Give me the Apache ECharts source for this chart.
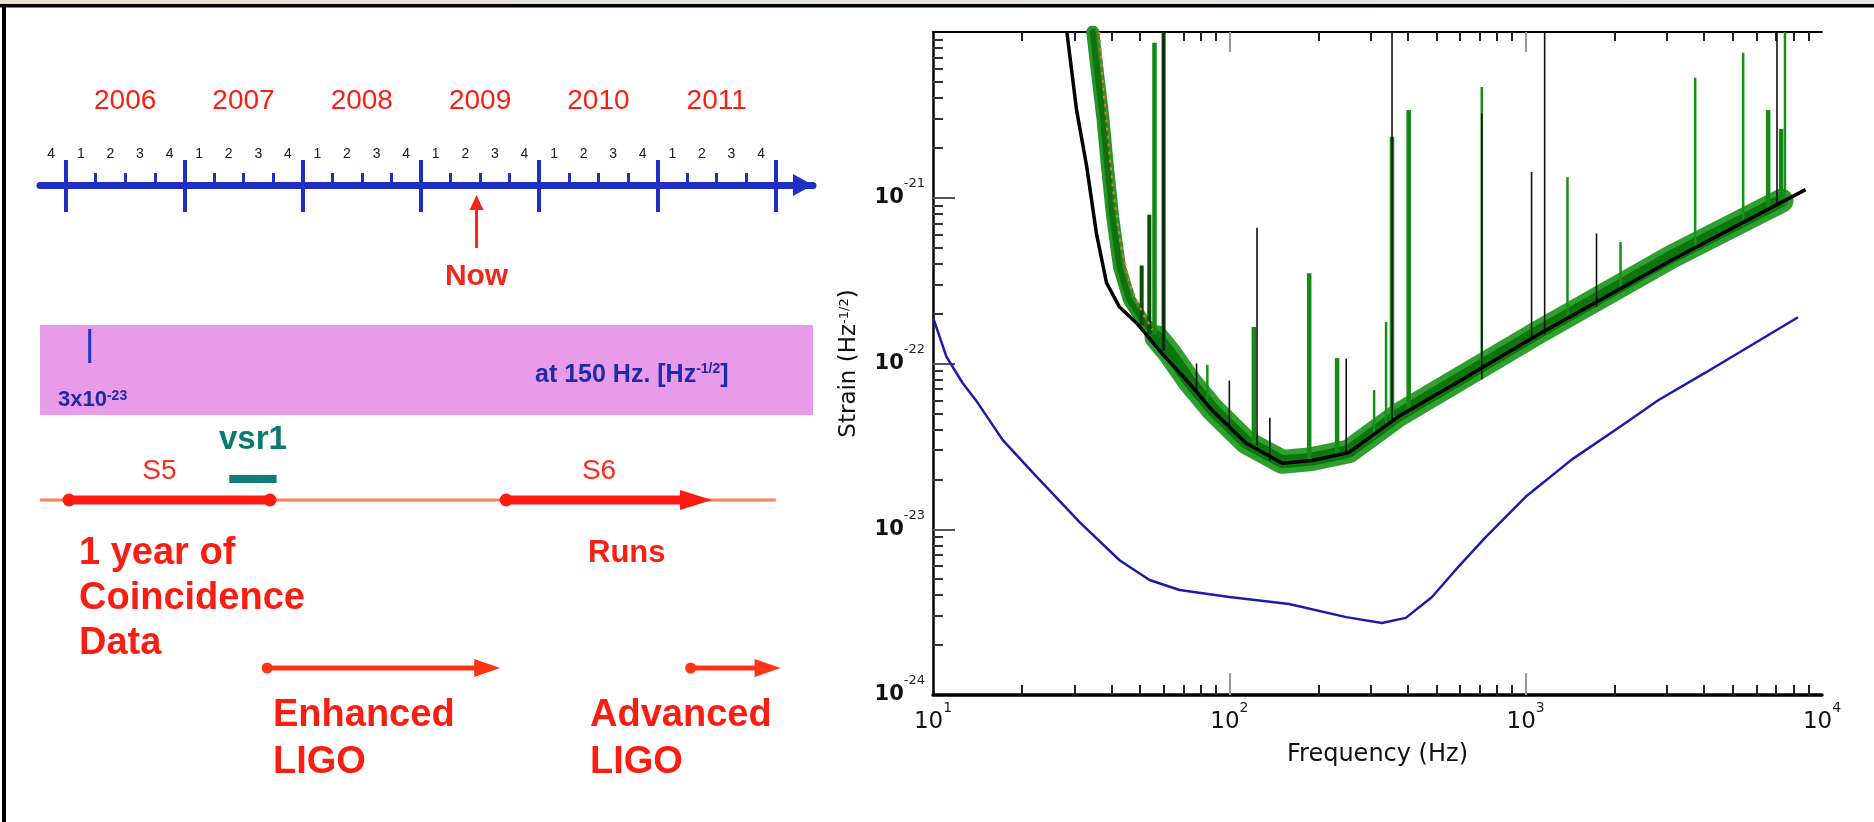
<!DOCTYPE html>
<html><head><meta charset="utf-8">
<script src="https://cdn.jsdelivr.net/npm/echarts@6/dist/echarts.min.js"></script>
<style>html,body{margin:0;padding:0;background:#fff;}#c{width:1874px;height:822px;}</style>
</head><body><div id="c"></div><script>
// ================= DATA =================
// --- right panel: strain noise spectra (frequency in Hz, strain in Hz^-1/2) ---
const BLUE_F = [10, 11.1, 12.6, 14.1, 17.2, 22.4, 31.3, 42.6, 53.8, 67.9, 100, 159, 248, 327, 394, 483, 581, 733, 1000, 1430, 2100, 2800, 4040, 8300];
const BLUE_S = [1.9e-22, 1.1e-22, 7.6e-23, 5.85e-23, 3.45e-23, 2.07e-23, 1.1e-23, 6.5e-24, 4.94e-24, 4.3e-24, 3.9e-24, 3.54e-24, 2.95e-24, 2.72e-24, 2.92e-24, 3.9e-24, 5.7e-24, 8.97e-24, 1.57e-23, 2.63e-23, 4.2e-23, 6.0e-23, 8.8e-23, 1.9e-22];

const BLACK_F = [28.3, 30.5, 33, 35.6, 38.5, 42.6, 48.7, 59.5, 73.3, 87.7, 114, 151, 190, 253, 373, 551, 1107, 3100, 8800];
const BLACK_S = [1e-20, 3.4e-21, 1.55e-21, 6.1e-22, 3.07e-22, 2.19e-22, 1.75e-22, 1.14e-22, 7.6e-23, 5.2e-23, 3.3e-23, 2.5e-23, 2.6e-23, 2.9e-23, 4.8e-23, 7.2e-23, 1.5e-22, 4.2e-22, 1.12e-21];

const GREEN_WALL_F = [34.6, 35.7, 37.4, 38.8, 40.4, 42.6, 46.0, 50.9, 56.8, 62.8];
const GREEN_WALL_S = [1e-20, 6.15e-21, 3.07e-21, 1.53e-21, 7.65e-22, 3.82e-22, 2.42e-22, 1.83e-22, 1.44e-22, 1.16e-22];

const GREEN_BAND_F = [56.8, 62.8, 73.3, 87.7, 114, 151, 190, 253, 373, 551, 1107, 3100, 7300];
const GREEN_BAND_S = [1.44e-22, 1.16e-22, 7.8e-23, 5.3e-23, 3.35e-23, 2.55e-23, 2.65e-23, 2.95e-23, 4.9e-23, 7.4e-23, 1.55e-22, 4.4e-22, 9.6e-22];

const ORANGE_F = [36.4, 37.6, 39.2, 40.8, 43.0, 46.5, 51, 55];
const ORANGE_S = [1e-20, 4.5e-21, 2.0e-21, 1.0e-21, 5.2e-22, 2.9e-22, 2.0e-22, 1.6e-22];

// spectral lines: [frequency, strain at base, strain at tip]
const GREEN_LINES_THICK = [[55.9, 1.5e-22, 8.6e-21], [121, 3.3e-23, 1.66e-22], [186, 2.6e-23, 3.5e-22], [231, 2.8e-23, 1.08e-22], [354, 4.6e-23, 2.33e-21], [403, 5e-23, 3.38e-21], [6580, 8.5e-22, 3.38e-21], [7280, 9e-22, 2.6e-21]];
const GREEN_LINES_THIN = [[84.3, 5.5e-23, 9.8e-23], [308, 3.5e-23, 6.9e-23], [338, 4.4e-23, 1.78e-22], [711, 9e-23, 4.66e-21], [1384, 1.8e-22, 1.33e-21], [2090, 2.8e-22, 5.4e-22], [3733, 4.8e-22, 5.3e-21], [5420, 6.6e-22, 7.5e-21], [7500, 9e-22, 1e-20]];
const DARK_LINES = [[50.6, 1.7e-22, 3.9e-22], [53.7, 1.5e-22, 7.9e-22], [60, 1.2e-22, 1e-20]];
const BLACK_LINES = [[60, 1.2e-22, 1e-20], [77.5, 6.8e-23, 1e-22], [100, 4e-23, 7.9e-23], [124, 3.2e-23, 6.6e-22], [137, 2.6e-23, 4.7e-23], [248, 2.9e-23, 1.07e-22], [354, 4.6e-23, 1e-20], [711, 8e-23, 3.24e-21], [1047, 1.4e-22, 1.43e-21], [1159, 1.5e-22, 1e-20], [1734, 2.2e-22, 6.1e-22], [7050, 9e-22, 1e-20]];

const FREQ_LABELS = [10, 100, 1000, 10000];
const STRAIN_LABELS = [1e-24, 1e-23, 1e-22, 1e-21];

// --- left panel: timeline (years as decimal) ---
const YEARS = [2006, 2007, 2008, 2009, 2010, 2011, 2012];
const YEAR_LABELS = ['2006', '2007', '2008', '2009', '2010', '2011'];
const QUARTER_LABELS = ['4', '1', '2', '3', '4', '1', '2', '3', '4', '1', '2', '3', '4', '1', '2', '3', '4', '1', '2', '3', '4', '1', '2', '3', '4'];
const T_RANGE = [2005.78, 2012.314];
const NOW = 2009.47;
const BAND_SPAN = [2005.78, 2012.314];
const BAND_MARK = 2006.2;
const VSR1 = [2007.38, 2007.78];
const RUN_LINE = [2005.78, 2012.0];
const RUN_NAMES = ['S5', 'S6'];
const RUN_START = [2006.025, 2009.72];
const RUN_END = [2007.724, 2011.46];
const UPGRADE_NAMES = ['Enhanced LIGO', 'Advanced LIGO'];
const UPGRADE_START = [2007.70, 2011.28];
const UPGRADE_END = [2009.67, 2012.04];

// ================= BUILD =================
const SCALE = 1e24; // plot strain in units of 1e-24 (avoids log-axis rounding of tiny numbers)
const RF = 'DejaVu Sans';
const LF = 'Liberation Sans';
const RED = '#fa1e12';
const TL_BLUE = '#1f2fc4';

const pairs = (fs, ss) => fs.map((f, i) => [f, ss[i] * SCALE]);
const lines = arr => arr.map(([f, a, b]) => [f, a * SCALE, b * SCALE]);

const MINOR = [];
[1, 10, 100, 1000].forEach(d => { for (let k = 2; k <= 9; k++) MINOR.push(k * d); });
const X_MINOR = MINOR.filter(v => v > 10 && v < 10000);
const X_MAJOR = [100, 1000];
const Y_MINOR = MINOR.filter(v => v > 1 && v < 10000);
const Y_MAJOR = [10, 100, 1000];

const supRich = (size, supSize, weight) => ({
  b: { fontSize: size, fontFamily: RF, fontWeight: weight, color: '#111', verticalAlign: 'middle' },
  s: { fontSize: supSize, fontFamily: RF, color: '#222', verticalAlign: 'top', padding: [0, 0, 28, 0] }
});

function spikeSeries(data, color, width, z) {
  return {
    type: 'custom', xAxisIndex: 0, yAxisIndex: 0, z: z, clip: true, silent: true,
    encode: { x: 0, y: [1, 2] },
    data: lines(data),
    renderItem: function (params, api) {
      const a = api.coord([api.value(0), api.value(1)]);
      const b = api.coord([api.value(0), api.value(2)]);
      return { type: 'line', shape: { x1: a[0], y1: a[1], x2: b[0], y2: b[1] }, style: { stroke: color, lineWidth: width } };
    }
  };
}

const QUARTER_CENTERS = QUARTER_LABELS.map((q, i) => 2005.875 + i * 0.25);
const YEAR_CENTERS = YEAR_LABELS.map(y => +y + 0.5);
const QUARTER_TICKS = [];
for (let y = 2006; y < 2012; y++) for (let q = 1; q < 4; q++) QUARTER_TICKS.push(y + q * 0.25);

const tAxis = (grid, extra) => Object.assign({
  gridIndex: grid, type: 'value', min: T_RANGE[0], max: T_RANGE[1], position: 'top',
  axisLine: { show: false, onZero: false }, axisTick: { show: false }, axisLabel: { show: false }, splitLine: { show: false }
}, extra || {});
const hiddenY = grid => ({ gridIndex: grid, type: 'value', min: 0, max: 1, show: false });

const logX = extra => Object.assign({
  gridIndex: 0, type: 'log', logBase: 10, min: 10, max: 10000,
  axisLine: { show: false, onZero: false }, axisTick: { show: false }, axisLabel: { show: false },
  splitLine: { show: false }, minorTick: { show: false }, minorSplitLine: { show: false }
}, extra);
const logY = extra => Object.assign({
  gridIndex: 0, type: 'log', logBase: 10, min: 1, max: 10000,
  axisLine: { show: false, onZero: false }, axisTick: { show: false }, axisLabel: { show: false },
  splitLine: { show: false }, minorTick: { show: false }, minorSplitLine: { show: false }
}, extra);

const option = {
  animation: false,
  backgroundColor: '#ffffff',
  grid: [
    { left: 933, top: 32, width: 889, height: 663, containLabel: false, outerBoundsMode: 'none' },
    { left: 40, top: 185, width: 773, height: 1, containLabel: false, outerBoundsMode: 'none' },
    { left: 40, top: 325, width: 773, height: 90, containLabel: false, outerBoundsMode: 'none' },
    { left: 40, top: 490, width: 773, height: 20, containLabel: false, outerBoundsMode: 'none' },
    { left: 40, top: 658, width: 773, height: 20, containLabel: false, outerBoundsMode: 'none' }
  ],
  xAxis: [
    // 0: frequency, bottom
    logX({
      position: 'bottom',
      axisLine: { show: true, onZero: false, lineStyle: { color: '#000', width: 3.5 } },
      axisTick: { show: true, inside: true, length: 10, customValues: X_MINOR, lineStyle: { color: '#222', width: 2 } },
      axisLabel: { show: true, customValues: FREQ_LABELS, margin: 6, showMinLabel: true, showMaxLabel: true, hideOverlap: false,
        formatter: v => '{b|10}{s|' + Math.round(Math.log10(v)) + '}', rich: supRich(23, 14, 'normal') },
      name: 'Frequency (Hz)', nameLocation: 'middle', nameGap: 48,
      nameTextStyle: { fontFamily: RF, fontSize: 24, color: '#111' }
    }),
    // 1: bottom decade ticks
    logX({ position: 'bottom', axisTick: { show: true, inside: true, length: 22, customValues: X_MAJOR, lineStyle: { color: '#999', width: 2 } } }),
    // 2: top minor
    logX({ position: 'top',
      axisLine: { show: true, onZero: false, lineStyle: { color: '#000', width: 2 } },
      axisTick: { show: true, inside: true, length: 9, customValues: X_MINOR, lineStyle: { color: '#222', width: 2 } } }),
    // 3: top decade
    logX({ position: 'top', axisTick: { show: true, inside: true, length: 20, customValues: X_MAJOR, lineStyle: { color: '#999', width: 2 } } }),
    // 4: timeline main line with year ticks upward and quarter numbers
    tAxis(1, {
      axisLine: { show: true, onZero: false, lineStyle: { color: TL_BLUE, width: 7 }, symbol: ['none', 'triangle'], symbolSize: [22, 20], symbolOffset: [0, -10] },
      axisTick: { show: true, length: 25, customValues: YEARS, lineStyle: { color: TL_BLUE, width: 4 } },
      axisLabel: { show: true, customValues: QUARTER_CENTERS, margin: 24, fontFamily: LF, fontSize: 14, color: '#1a1a1a',
        formatter: v => QUARTER_LABELS[Math.round((v - 2005.875) / 0.25)] }
    }),
    // 5: year ticks downward
    tAxis(1, { axisTick: { show: true, inside: true, length: 27, customValues: YEARS, lineStyle: { color: TL_BLUE, width: 4 } } }),
    // 6: quarter ticks
    tAxis(1, { axisTick: { show: true, length: 12, customValues: QUARTER_TICKS, lineStyle: { color: TL_BLUE, width: 3 } } }),
    // 7: year labels
    tAxis(1, { axisLabel: { show: true, customValues: YEAR_CENTERS, margin: 70, fontFamily: LF, fontSize: 28, color: RED,
      formatter: v => YEAR_LABELS[Math.round(v - 0.5 - 2006)] } }),
    tAxis(2, { show: false }),
    tAxis(3, { show: false }),
    tAxis(4, { show: false })
  ],
  yAxis: [
    logY({
      position: 'left',
      axisLine: { show: true, onZero: false, lineStyle: { color: '#000', width: 2.5 } },
      axisTick: { show: true, inside: true, length: 10, customValues: Y_MINOR, lineStyle: { color: '#333', width: 2 } },
      axisLabel: { show: true, customValues: STRAIN_LABELS.map(v => v * SCALE * 1.0000001), margin: 8, showMinLabel: true, showMaxLabel: true, hideOverlap: false,
        formatter: v => '{b|10}{s|' + (Math.round(Math.log10(v)) - 24) + '}', rich: supRich(21, 13, 'bold') },
      name: '{n|Strain (Hz}{s|-1/2}{n|)}', nameLocation: 'middle', nameGap: 72,
      nameTextStyle: { rich: {
        n: { fontFamily: RF, fontSize: 23, color: '#111' },
        s: { fontFamily: RF, fontSize: 13, color: '#111', verticalAlign: 'top' } } }
    }),
    logY({ position: 'left', axisTick: { show: true, inside: true, length: 22, customValues: Y_MAJOR, lineStyle: { color: '#555', width: 2 } } }),
    hiddenY(1), hiddenY(2), hiddenY(3), hiddenY(4)
  ],
  series: [
    // ---- right panel ----
    { type: 'line', name: 'Advanced LIGO design', xAxisIndex: 0, yAxisIndex: 0, z: 2, showSymbol: false, silent: true,
      data: pairs(BLUE_F, BLUE_S), lineStyle: { color: '#1c1ca8', width: 2.5 } },
    { type: 'line', xAxisIndex: 0, yAxisIndex: 0, z: 3, showSymbol: false, silent: true,
      data: pairs(GREEN_BAND_F, GREEN_BAND_S), lineStyle: { color: '#2f9f2f', width: 24, cap: 'round', join: 'round' } },
    { type: 'line', xAxisIndex: 0, yAxisIndex: 0, z: 4, showSymbol: false, silent: true,
      data: pairs(GREEN_BAND_F, GREEN_BAND_S), lineStyle: { color: '#0b760b', width: 13, cap: 'round', join: 'round' } },
    { type: 'line', xAxisIndex: 0, yAxisIndex: 0, z: 3, showSymbol: false, silent: true,
      data: pairs(GREEN_WALL_F, GREEN_WALL_S), lineStyle: { color: '#26962a', width: 13, cap: 'round', join: 'round' } },
    { type: 'line', xAxisIndex: 0, yAxisIndex: 0, z: 4, showSymbol: false, silent: true,
      data: pairs(GREEN_WALL_F, GREEN_WALL_S), lineStyle: { color: '#0d720d', width: 6, cap: 'round', join: 'round' } },
    spikeSeries(GREEN_LINES_THICK, '#138a13', 4.5, 5),
    spikeSeries(GREEN_LINES_THIN, '#179017', 2.5, 5),
    spikeSeries(DARK_LINES, '#0b4d0b', 4, 6),
    { type: 'line', xAxisIndex: 0, yAxisIndex: 0, z: 6, showSymbol: false, silent: true,
      data: pairs(ORANGE_F, ORANGE_S), lineStyle: { color: '#ff6a2a', width: 2, type: [3, 5] } },
    spikeSeries(BLACK_LINES, '#111', 1.6, 7),
    { type: 'line', xAxisIndex: 0, yAxisIndex: 0, z: 8, showSymbol: false, silent: true,
      data: pairs(BLACK_F, BLACK_S), lineStyle: { color: '#000', width: 3.5 } },

    // ---- left panel ----
    // "Now" marker
    { type: 'custom', xAxisIndex: 4, yAxisIndex: 2, silent: true, encode: { x: 0 }, data: [[NOW]],
      renderItem: function (params, api) {
        const p = api.coord([api.value(0), 0]);
        return { type: 'group', children: [
          { type: 'line', shape: { x1: p[0], y1: p[1] + 20, x2: p[0], y2: p[1] + 62 }, style: { stroke: '#f0281c', lineWidth: 3 } },
          { type: 'polygon', shape: { points: [[p[0], p[1] + 9], [p[0] - 7, p[1] + 24], [p[0] + 7, p[1] + 24]] }, style: { fill: '#f0281c' } },
          { type: 'text', style: { text: 'Now', x: p[0], y: p[1] + 91, align: 'center', verticalAlign: 'middle',
            fontFamily: LF, fontSize: 30, fontWeight: 'bold', fill: '#f0281c' } }
        ] };
      } },
    // sensitivity band
    { type: 'custom', xAxisIndex: 8, yAxisIndex: 3, silent: true, encode: { x: [0, 1] }, data: [BAND_SPAN],
      renderItem: function (params, api) {
        const a = api.coord([api.value(0), 1]);
        const b = api.coord([api.value(1), 0]);
        return { type: 'rect', shape: { x: a[0], y: a[1], width: b[0] - a[0], height: b[1] - a[1] }, style: { fill: '#e89be9' } };
      } },
    { type: 'custom', xAxisIndex: 8, yAxisIndex: 3, silent: true, encode: { x: 0 }, data: [[BAND_MARK]],
      renderItem: function (params, api) {
        const a = api.coord([api.value(0), 1]);
        return { type: 'line', shape: { x1: a[0], y1: a[1] + 4, x2: a[0], y2: a[1] + 38 }, style: { stroke: '#1b36c8', lineWidth: 3 } };
      } },
    // run axis thin line
    { type: 'line', xAxisIndex: 9, yAxisIndex: 4, silent: true, showSymbol: false, z: 1,
      data: [[RUN_LINE[0], 0.5], [RUN_LINE[1], 0.5]], lineStyle: { color: '#ff8257', width: 3 } },
    // S5 / S6 runs
    { type: 'custom', xAxisIndex: 9, yAxisIndex: 4, silent: true, z: 3, encode: { x: [0, 1] },
      data: RUN_START.map((s, i) => [s, RUN_END[i]]),
      renderItem: function (params, api) {
        const a = api.coord([api.value(0), 0.5]);
        const b = api.coord([api.value(1), 0.5]);
        const last = params.dataIndex === RUN_NAMES.length - 1;
        const tip = 32, half = 10;
        const ch = [
          { type: 'line', shape: { x1: a[0], y1: a[1], x2: last ? b[0] - tip + 2 : b[0], y2: b[1] }, style: { stroke: '#ff1a12', lineWidth: 9 } },
          { type: 'circle', shape: { cx: a[0], cy: a[1], r: 6.5 }, style: { fill: '#ff1a12' } },
          { type: 'text', style: { text: RUN_NAMES[params.dataIndex], x: (a[0] + b[0]) / 2 - 10, y: a[1] - 29, align: 'center', verticalAlign: 'middle',
            fontFamily: LF, fontSize: 28, fill: '#ff2a1a' } }
        ];
        if (last) ch.push({ type: 'polygon', shape: { points: [[b[0], b[1]], [b[0] - tip, b[1] - half], [b[0] - tip, b[1] + half]] }, style: { fill: '#ff1a12' } });
        else ch.push({ type: 'circle', shape: { cx: b[0], cy: b[1], r: 6.5 }, style: { fill: '#ff1a12' } });
        return { type: 'group', children: ch };
      } },
    // Virgo VSR1
    { type: 'custom', xAxisIndex: 9, yAxisIndex: 4, silent: true, z: 3, encode: { x: [0, 1] }, data: [VSR1],
      renderItem: function (params, api) {
        const a = api.coord([api.value(0), 0.5]);
        const b = api.coord([api.value(1), 0.5]);
        return { type: 'group', children: [
          { type: 'rect', shape: { x: a[0], y: a[1] - 25, width: b[0] - a[0], height: 8 }, style: { fill: '#0d7f77' } },
          { type: 'text', style: { text: 'vsr1', x: (a[0] + b[0]) / 2, y: a[1] - 60, align: 'center', verticalAlign: 'middle',
            fontFamily: LF, fontSize: 33, fontWeight: 'bold', fill: '#0b7a72' } }
        ] };
      } },
    // Enhanced / Advanced LIGO
    { type: 'custom', xAxisIndex: 10, yAxisIndex: 5, silent: true, encode: { x: [0, 1] },
      data: UPGRADE_START.map((s, i) => [s, UPGRADE_END[i]]),
      renderItem: function (params, api) {
        const a = api.coord([api.value(0), 0.5]);
        const b = api.coord([api.value(1), 0.5]);
        const tip = 26, half = 9;
        return { type: 'group', children: [
          { type: 'line', shape: { x1: a[0], y1: a[1], x2: b[0] - tip + 2, y2: b[1] }, style: { stroke: '#ff3414', lineWidth: 5 } },
          { type: 'circle', shape: { cx: a[0], cy: a[1], r: 5.5 }, style: { fill: '#ff3414' } },
          { type: 'polygon', shape: { points: [[b[0], b[1]], [b[0] - tip, b[1] - half], [b[0] - tip, b[1] + half]] }, style: { fill: '#ff3414' } }
        ] };
      } }
  ],
  graphic: [
    { type: 'rect', z: 100, silent: true, shape: { x: 0, y: 0, width: 1874, height: 4 },
      style: { fill: new echarts.graphic.LinearGradient(0, 0, 1, 0, [{ offset: 0, color: '#e7dfcf' }, { offset: 1, color: '#e6e6e6' }]) } },
    { type: 'rect', z: 100, silent: true, shape: { x: 0, y: 4, width: 1874, height: 3.5 }, style: { fill: '#000' } },
    { type: 'rect', z: 100, silent: true, shape: { x: 2, y: 4, width: 4, height: 818 }, style: { fill: '#000' } },
    // band annotations
    { type: 'text', z: 50, silent: true, x: 58, y: 400,
      style: { text: '{b|3x10}{s|-23}', verticalAlign: 'middle',
        rich: { b: { fontFamily: LF, fontSize: 22, fontWeight: 'bold', fill: '#1f2aa8' },
                s: { fontFamily: LF, fontSize: 14, fontWeight: 'bold', fill: '#1f2aa8', verticalAlign: 'top' } } } },
    { type: 'text', z: 50, silent: true, x: 535, y: 375,
      style: { text: '{b|at 150 Hz. [Hz}{s|-1/2}{b|]}', verticalAlign: 'middle',
        rich: { b: { fontFamily: LF, fontSize: 25, fontWeight: 'bold', fill: '#1f2aa8' },
                s: { fontFamily: LF, fontSize: 14, fontWeight: 'bold', fill: '#1f2aa8', verticalAlign: 'top' } } } },
    // run / upgrade captions
    { type: 'text', z: 50, silent: true, x: 79, y: 531,
      style: { text: '1 year of\nCoincidence\nData', verticalAlign: 'top', lineHeight: 45,
        fontFamily: LF, fontSize: 38, fontWeight: 'bold', fill: RED } },
    { type: 'text', z: 50, silent: true, x: 588, y: 553,
      style: { text: 'Runs', verticalAlign: 'middle', fontFamily: LF, fontSize: 31, fontWeight: 'bold', fill: RED } },
    { type: 'text', z: 50, silent: true, x: 273, y: 692,
      style: { text: 'Enhanced\nLIGO', verticalAlign: 'top', lineHeight: 47, fontFamily: LF, fontSize: 38, fontWeight: 'bold', fill: RED } },
    { type: 'text', z: 50, silent: true, x: 590, y: 692,
      style: { text: 'Advanced\nLIGO', verticalAlign: 'top', lineHeight: 47, fontFamily: LF, fontSize: 38, fontWeight: 'bold', fill: RED } }
  ]
};

const chart = echarts.init(document.getElementById('c'), null, { renderer: 'canvas' });
chart.setOption(option);
</script></body></html>
